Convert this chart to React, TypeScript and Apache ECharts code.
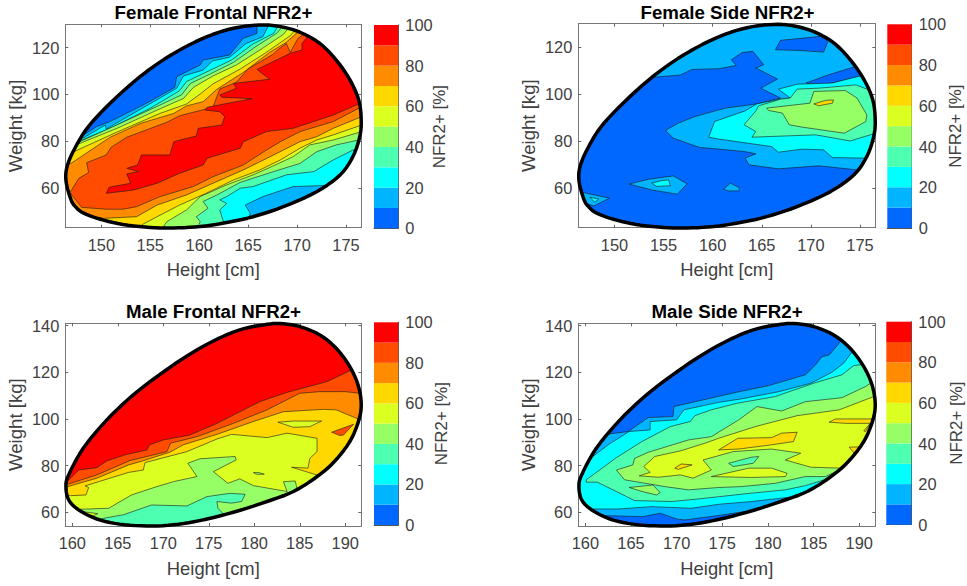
import React, { useEffect, useRef } from "react";
import * as echarts from "echarts";

type Pt = [number, number];

const bandColors = ["#0068FF", "#00B4FF", "#00FFFF", "#4DFFB0", "#96FF66", "#DCFF22", "#FFD800", "#FF8C00", "#FF4C00", "#FF0000"];
const barLevels = [0, 10, 20, 30, 40, 50, 60, 70, 80, 90];
const barTicks = 20;
const femaleHeightTicks = [150, 155, 160, 165, 170, 175];
const femaleWeightTicks = [60, 80, 100, 120];
const maleHeightTicks = [160, 165, 170, 175, 180, 185, 190];
const maleWeightTicks = [60, 80, 100, 120, 140];
const femaleRange = { x: [146.32, 176.56], y: [43, 130] };
const maleRange = { x: [159.23, 191.76], y: [54.1, 141] };

const femaleOutline: Pt[] = [[146.4,62.7],[146.9,55],[147.4,51.8],[148.2,49.2],[149.9,46.6],[152.2,44.4],[155,43.1],[157.4,42.9],[160.1,43.5],[162.8,45.2],[165.5,47.7],[168.6,52],[172,58.4],[174.4,65.6],[175.7,73.4],[176.4,81.9],[176.55,89.1],[176.3,97.6],[175.4,106.2],[174,114.7],[172.3,121.9],[170.3,126.6],[168.3,129],[166.2,129.7],[163.5,128.3],[160.8,124.7],[157.7,118.3],[154.6,109.7],[151.6,99],[148.8,86.9],[147.3,77],[146.5,69.1]];
const maleOutline: Pt[] = [[159.3,71],[159.6,65.3],[160.7,61],[162.7,57.1],[165.2,54.9],[168.2,54.1],[171.1,54.6],[174,56.4],[177.7,60],[181.4,64.6],[184.3,68.9],[186.8,75],[188.7,81.3],[190.5,90.3],[191.5,99.6],[191.75,106.7],[191.4,114.6],[190.5,122.4],[189,130.3],[187.2,136],[185,139.6],[182.8,140.9],[181,140.3],[178.4,138.2],[175.5,133.4],[172.6,127],[169.6,119],[166.7,110.3],[163.8,99.6],[161.2,87.4],[159.6,76]];

// Female frontal contour traces [height, weight]
const ffUp10: Pt[] = [[148.2,82.7],[149.5,86.2],[150.9,88.4],[154.6,96.2],[157.5,103],[157.7,107.6],[160.1,112.6],[160.4,114.7],[163.1,116.9],[164.5,124],[165.9,126.1],[165.9,131.8]];
const ffUp20: Pt[] = [[148.2,81.5],[150.4,86.9],[150.5,85.2],[154.6,95.1],[157.7,102.6],[158.4,107.9],[160.4,110.4],[161.4,114.4],[163.1,115.9],[164.8,121.8],[166.5,124.7],[167.4,131.8]];
const ffUp30: Pt[] = [[148,80.5],[150.9,85.5],[155,94.1],[158,101.6],[158.7,105.5],[160.8,109.7],[163.3,114.7],[165.5,121.6],[167.6,126.1],[168.3,131.1]];
const ffUp40: Pt[] = [[147.8,79.8],[151.2,86.2],[155.3,94.1],[158.2,99.8],[159.1,104.7],[161.1,108.7],[163.5,113.7],[165.9,120.8],[167.9,126.1],[168.8,130.4]];
const ffUp50: Pt[] = [[147.6,78.7],[151.6,85.5],[155.7,93.3],[158.4,98.3],[159.4,103],[161.4,107.9],[163.8,112.6],[166.6,120.1],[168.6,125.7],[169.4,129.7]];
const ffUp60: Pt[] = [[147.3,75.7],[151.7,84.1],[156,91.9],[158.7,95.9],[160.1,100.2],[161.4,104.5],[164.2,110.9],[166.6,117.3],[169.3,125.1],[170.1,129]];
const ffUp70: Pt[] = [[146.9,70.5],[150.9,81.7],[154,87.6],[157.4,91.9],[158.7,95.1],[160.4,96.9],[161.8,102.2],[164.5,109.4],[167.2,118],[168.9,122.3],[170.5,128.3]];
const ffUp80: Pt[] = [[146.8,58],[147.7,64.1],[148.7,66.6],[148.5,70.8],[150.5,74.1],[151,77.4],[152.6,81.7],[156.7,88.1],[158,90.9],[161.4,94.5],[162.1,102.3],[163.8,105.2],[165,110.9],[167.6,117.3],[168,119],[168.9,121.8],[169.3,118],[170.1,124],[171.7,129]];
const ffUp90: Pt[] = [[150.5,57.7],[150.8,60.3],[153,62],[152.6,66],[153.8,67],[152.6,68.4],[153.7,69.8],[154.1,74.1],[157,74.1],[157.4,79.8],[159.7,82.2],[159.9,85.5],[162.3,86.9],[162.6,90.5],[162.1,92.6],[160.6,93.3],[160.8,94.5],[165.4,98.2],[162.3,98.8],[162.1,99.8],[163.8,102.6],[163.5,104.7],[167.2,106.5],[165.9,110.7],[169.3,117.6],[170.5,119],[170.5,121.8],[171,124.4],[171.5,126]];
const ffLow20: Pt[] = [[164.8,40],[165.2,49.2],[164.7,52.7],[166.5,56.3],[169.6,60.6],[173.2,61.1],[174.5,61.3]];
const ffLow30: Pt[] = [[162.8,41.3],[162.5,45.2],[162.1,50.6],[162.8,53.4],[162.1,54.9],[162.8,56.3],[164.2,59.9],[165.5,60.6],[168.9,65.6],[171.7,67],[173.7,72],[175.7,76.2],[177.5,79.1]];
const ffLow40: Pt[] = [[159.7,41.3],[160.1,45.6],[159.7,47.7],[160.9,51.3],[160.4,54.2],[161.8,57],[164.2,62.4],[167.6,67],[170.3,70.5],[172,75.5],[174,78.4],[176.6,80.8],[177.5,81.9]];
const ffLow50: Pt[] = [[156,41.3],[156.7,45.6],[158.7,50.6],[160.1,56.3],[162.8,61.3],[165.5,65.6],[167.6,69.5],[169.6,73.4],[171.3,78.4],[173.7,80.5],[176.6,84.1],[177.5,85.5]];
const ffLow60: Pt[] = [[153.3,41.3],[154.3,44.6],[155.7,47.7],[158,52.7],[160.7,57.7],[163.5,63.4],[166.2,67.7],[168.3,72],[170.3,77],[172,80.5],[173.7,82.7],[176.6,86.9],[177.5,88.4]];
const ffLow70: Pt[] = [[147.8,49.2],[150.2,47],[153.6,47.7],[155.7,52.7],[158.7,57],[161.4,62],[164.5,67.7],[167.6,74.1],[170.3,79.8],[172,81.9],[173.7,85.5],[176.6,90.5],[177.5,91.9]];
const ffLow80: Pt[] = [[146.8,58],[148,51.7],[150.5,50.9],[152.2,50.9],[153.6,52],[156,56.3],[159.4,60.6],[161.4,64.8],[164.5,69.8],[166.6,75.5],[168.3,79.8],[170.3,84.1],[173.7,88.4],[176.3,94.1],[177.5,96.9]];
const ffLow90: Pt[] = [[150.5,57.7],[153.3,59.1],[155.7,62],[158,66.3],[160.4,69.8],[160.8,72.7],[164.2,77],[164.5,79.8],[166.9,84.1],[169.6,85.5],[173.7,91.2],[176.3,95.9],[177.5,97.6]];

// Female side contour traces
const fsWide10: Pt[] = [[140,107],[153.8,107.1],[156.7,108.1],[157.9,110.5],[160.6,110.8],[162.4,112.2],[161.9,114.6],[163,117.7],[164.1,118.2],[165.2,112.5],[164.4,111.1],[166.6,106.4],[164.9,102.5],[166.9,98.3],[164.5,95.8],[161.3,94],[158.2,90.4],[156.5,87.6],[155.2,84.5],[156,81.2],[158.6,77.3],[163.2,75.5],[164.4,74.5],[163.3,72.7],[163.7,69.8],[166.7,68.1],[170.8,69.4],[174.6,67.7],[176.3,67],[190,67],[190,140],[140,140]];
const fsHoleTop: Pt[] = [[166.4,118.9],[166.9,122.9],[171.5,124.8],[171.7,122],[171.3,117.9],[168.8,118.6]];
const fsHoleRight: Pt[] = [[169.5,104.7],[171.8,108.2],[174.6,111.8],[175.6,111.8],[176.3,106],[175.1,107.8],[172.2,104.7],[170.8,103.9]];
const fsCyan: Pt[] = [[159.6,81.6],[160.2,88.3],[163.3,92.8],[164.5,95.8],[166.9,97.8],[167.9,98.3],[166.7,102.1],[168.6,104.2],[172.2,104.7],[175.1,107.8],[176.3,106.8],[190,100],[190,72],[176.3,72.7],[175.2,72.7],[172.2,72.9],[171.3,76.2],[169.1,76.5],[166.7,75.2],[166,77.6],[160.6,80.8]];
const fsTeal: Pt[] = [[163.2,86.9],[164.4,92.8],[164.7,95],[166.9,97.8],[167.9,98.3],[168.6,102.1],[170.8,102.5],[174.6,103.9],[175.9,101.8],[190,100],[190,85],[176.6,83.3],[174,80],[170.5,82.6],[164,81.6],[164.4,84]];
const fsGreen: Pt[] = [[165.5,94],[169.9,96.1],[170.3,101.1],[173.5,101.5],[174.7,98.3],[175.7,91.1],[175.6,88.3],[173.4,83.3],[169.1,85.9],[167.8,86.9],[167.1,91.9],[165.7,93]];
const fsYellow: Pt[] = [[170.3,95.8],[171.5,97.3],[172.3,97.5],[172.2,96.1],[170.8,95]];
const fsSpotA: Pt[] = [[151.5,61.6],[153.5,63.7],[156,65.1],[157.4,61.7],[156.4,57.3],[153.8,59.1]];
const fsSpotAInner: Pt[] = [[153.8,62],[154.8,63.1],[155.5,63.4],[155.7,60.9],[154.3,60.6]];
const fsSpotB: Pt[] = [[161.1,59.4],[161.8,62],[162.7,60.1],[162.7,58.7],[161.6,58.7]];
const fsSpotC: Pt[] = [[146.5,57.7],[146.8,58],[149.5,55.6],[147.9,52.3],[147,53.5]];
const fsSpotCInner: Pt[] = [[147.5,56],[148.4,55.2],[148,53.9]];

// Male frontal contour traces (each is the lower edge of the region above it)
const mfEdge90: Pt[] = [[159.5,73.4],[160.7,78.1],[162.7,79.1],[163.8,82],[165.8,84.6],[168.2,86.7],[168.5,88.9],[170,91],[172.9,93.1],[175.9,98.1],[180.6,107.4],[183.6,111.4],[188,116],[190.9,121.4],[192,123]];
const mfEdge80: Pt[] = [[159.5,72],[162.7,76],[166.3,82.1],[170.4,86],[170.8,89.6],[173.7,92.4],[177.7,98.1],[181.4,103.9],[185,111],[187.2,111.7],[190,111.7],[191.6,111]];
const mfEdge70: Pt[] = [[159.5,71],[162.7,74.6],[166.2,80.3],[167.8,82.1],[170.7,85.7],[172.2,88.9],[175.9,93.4],[179.9,98.9],[183.2,103.1],[187.6,104.1],[189,103.9],[191.4,100],[192,99]];
const mfEdge60: Pt[] = [[159.8,67.1],[161.5,67.4],[161.8,70.6],[161.4,71.3],[166.2,77.1],[167.8,78.1],[168,81.3],[172.6,86],[175.9,91.4],[177.5,93.4],[181.4,92],[183.6,93.9],[186.9,91.7],[186.9,86],[186.1,83.1],[185.9,78.9],[184.1,79.3],[187.1,75.7],[188.3,73.1]];
const mfEdge50: Pt[] = [[161,61.3],[164,61.7],[166.5,67.4],[169.3,71],[171.1,73.1],[173.7,75.3],[172.7,81],[174,82.9],[177.9,83.9],[178,82.4],[175.5,77.4],[177.1,72.4],[178.4,74.3],[179.9,71.4],[183.6,68.9],[183.2,73.1],[184.5,73.4],[184.7,70],[185.4,67.4]];
const mfEdge40: Pt[] = [[163,57.1],[165.6,58.9],[168.7,63.1],[172.6,62.7],[174.8,66.7],[177.3,68.1],[179,67.7],[178.6,64.6],[177.5,63.9],[175.9,64.6],[176,61.7],[176.7,58.9],[176.6,56]];
const mfPocket: Pt[] = [[160.8,60.4],[162.8,59.4],[161.8,57.6],[160.6,58.5]];
const mfIslandLow: Pt[] = [[179.9,77],[180.5,77],[181.1,76.3],[180.2,76.3]];
const mfIslandLens: Pt[] = [[182.6,98.6],[184.3,99.1],[187.4,99.1],[186.1,96.7],[184.3,96.4]];
const mfIslandHigh: Pt[] = [[188.5,94.3],[190.9,97.7],[189.8,93.1],[189.4,92.9]];

// Male side contour traces
const msUp10: Pt[] = [[162.3,93.4],[164.7,94.6],[166.9,100.6],[169.6,101],[169.7,105.3],[176.4,111.3],[180.1,114.3],[184.1,118.9],[185.2,123.1],[185.9,126.7],[186.7,127.4],[188.1,133.9],[188.5,135]];
const msLow10: Pt[] = [[161.6,58.6],[166.3,58.1],[168.2,59.6],[170,57.1],[170.9,56.7],[174.6,58.6],[177.5,60.3],[178.2,58.9]];
const msUp20: Pt[] = [[160.1,81.7],[162.5,88.9],[164.8,94.6],[167.1,95.3],[167.1,98.9],[170,99.6],[170.8,103.9],[174.6,107.1],[177.1,108.6],[181.2,111.7],[184.7,115.3],[187,120],[188.3,123.9],[189.4,129.6],[190,131]];
const msLow20: Pt[] = [[160.8,61.4],[163.6,61.4],[167.3,62.4],[171.6,61.7],[174.6,63.4],[178.2,64.6],[183,66.7],[184.6,66.7]];
const msUp30: Pt[] = [[160.1,73.9],[163.4,83.4],[166.2,90.3],[169.3,96.7],[171.5,98.9],[172,101.4],[173.8,103.9],[176.6,106.7],[180.8,109.6],[185,115.3],[188.1,118.9],[189.4,122.9],[190.7,123.4],[191,124]];
const msLow30: Pt[] = [[160.1,73.9],[160.1,72.9],[161.3,72.9],[163.4,68.9],[165.4,65],[169.5,64.6],[172.4,65.7],[177.5,67.9],[181.9,69.6],[184.1,71.4],[186.5,74.3],[187.8,76]];
const msUp40: Pt[] = [[163.4,78.1],[165.2,80.3],[165.4,83.1],[166.9,85.7],[171.3,91],[173.8,92.4],[176.8,99.6],[178.8,105.3],[181.5,103.4],[184.1,107.4],[188.1,109.1],[190.7,113.9],[191.6,116.3],[192,117]];
const msLow40: Pt[] = [[163.4,78.1],[164.3,73.9],[168.7,71],[171.3,69.6],[174.6,70.6],[177.1,71],[180.8,72.4],[184.1,75.3],[186.3,75.3],[188.1,78.6],[188.9,81]];
const msUp50: Pt[] = [[165.9,75.6],[167.1,77.1],[166.4,79.6],[167.6,83.9],[170.5,86.4],[173.1,89.6],[174.6,91.7],[178.6,96.7],[183.2,101.4],[187.8,103.9],[191.6,109.6],[192,110]];
const msLow50: Pt[] = [[165.9,75.6],[168,75],[170.4,76],[171.8,74.6],[173.8,78.1],[172.9,82.4],[176.2,86],[180.4,87.1],[183.6,85.3],[181.9,82.4],[184.7,79.3],[188.1,78.9],[188.9,79.6]];
const msLens50: Pt[] = [[173.8,75.3],[177.9,78.9],[180.4,78.9],[182.1,76.7],[181.9,75.3],[178.2,74.9]];
const msTealIsle: Pt[] = [[175.7,81],[178.2,83.6],[179,83.9],[178.4,81],[176.2,79.6]];
const msGreenIsle: Pt[] = [[164.8,70.6],[167.4,71.7],[168.2,68.4],[167.8,67.4],[166.2,68.9]];
const msYellowBig: Pt[] = [[174.6,86.7],[176.7,91.7],[180.4,92],[181.5,93.9],[183.2,94.3],[182.8,90.3],[180.4,88.9],[176.8,87.1]];
const msYellowSmall: Pt[] = [[169.8,78.9],[170.5,80.7],[171.7,80.3],[170.2,78.4]];
const msYellowRight: Pt[] = [[186.7,98.6],[187.4,100],[192,100],[192,98.1],[188.5,98.1]];
const msYellowSliver: Pt[] = [[190.5,94.9],[191.2,98.1],[190.7,94.6]];
const msYellowLow: Pt[] = [[188.9,87.9],[190.6,88.1],[190,84],[189.6,84.6]];

type Range = { x: number[]; y: number[] };
const farTR = (r: Range): Pt => [r.x[1] + 20, r.y[1] + 20];
const farBR = (r: Range): Pt => [r.x[1] + 20, r.y[0] - 20];
const farBL = (r: Range): Pt => [r.x[0] - 20, r.y[0] - 20];
const farTL = (r: Range): Pt => [r.x[0] - 20, r.y[1] + 20];
const between = (up: Pt[], low: Pt[], r: Range): Pt[] => [[r.x[0] - 20, up[0][1]], ...up, farTR(r), farBR(r), ...[...low].reverse(), farBL(r)];
const tipped = (up: Pt[], low: Pt[], r: Range): Pt[] => [...up, farTR(r), farBR(r), ...[...low].reverse()];
const above = (edge: Pt[], r: Range): Pt[] => [[r.x[0] - 20, edge[0][1]], ...edge, [r.x[1] + 20, edge[edge.length - 1][1]], farTR(r), farTL(r)];

type Band = [number, Pt[]];
const femaleFrontalBands: Band[] = [
  [0, femaleOutline], [1, between(ffUp10, [], femaleRange)], [2, between(ffUp20, ffLow20, femaleRange)],
  [3, between(ffUp30, ffLow30, femaleRange)], [4, between(ffUp40, ffLow40, femaleRange)], [5, between(ffUp50, ffLow50, femaleRange)],
  [6, between(ffUp60, ffLow60, femaleRange)], [7, between(ffUp70, ffLow70, femaleRange)], [8, tipped(ffUp80, ffLow80, femaleRange)],
  [9, tipped(ffUp90, ffLow90, femaleRange)],
];
const femaleSideBands: Band[] = [
  [0, femaleOutline], [1, fsWide10], [0, fsHoleTop], [0, fsHoleRight], [2, fsCyan], [3, fsTeal], [4, fsGreen], [6, fsYellow],
  [1, fsSpotA], [2, fsSpotAInner], [1, fsSpotB], [1, fsSpotC], [2, fsSpotCInner],
];
const maleFrontalBands: Band[] = [
  [3, maleOutline], [4, above(mfEdge40, maleRange)], [5, above(mfEdge50, maleRange)], [6, above(mfEdge60, maleRange)],
  [7, above(mfEdge70, maleRange)], [8, above(mfEdge80, maleRange)], [9, above(mfEdge90, maleRange)],
  [5, mfPocket], [4, mfIslandLow], [5, mfIslandLens], [8, mfIslandHigh],
];
const maleSideBands: Band[] = [
  [0, maleOutline], [1, between(msUp10, msLow10, maleRange)], [2, between(msUp20, msLow20, maleRange)], [3, tipped(msUp30, msLow30, maleRange)],
  [4, tipped(msUp40, msLow40, maleRange)], [4, msGreenIsle], [5, tipped(msUp50, msLow50, maleRange)], [5, msLens50], [3, msTealIsle],
  [6, msYellowBig], [6, msYellowSmall], [6, msYellowRight], [6, msYellowSliver], [6, msYellowLow],
];

const panels = [
  { title: "Female Frontal NFR2+", bands: femaleFrontalBands, outline: femaleOutline, range: femaleRange, xt: femaleHeightTicks, yt: femaleWeightTicks, g: [65.3, 24.3, 296, 203.4], bar: [374, 25, 24.3, 203.3], tx: 213.5, ty: 2.5, gap: 33 },
  { title: "Female Side NFR2+", bands: femaleSideBands, outline: femaleOutline, range: femaleRange, xt: femaleHeightTicks, yt: femaleWeightTicks, g: [578.3, 23.7, 297, 204], bar: [887.3, 24.3, 24.4, 203.7], tx: 727.5, ty: 2.5, gap: 34.8 },
  { title: "Male Frontal NFR2+", bands: maleFrontalBands, outline: maleOutline, range: maleRange, xt: maleHeightTicks, yt: maleWeightTicks, g: [65.3, 323.3, 296, 202.7], bar: [374, 322.3, 24.3, 202.7], tx: 213.5, ty: 302, gap: 34.9 },
  { title: "Male Side NFR2+", bands: maleSideBands, outline: maleOutline, range: maleRange, xt: maleHeightTicks, yt: maleWeightTicks, g: [578.3, 323.3, 297, 202.7], bar: [886.3, 321.7, 25, 203], tx: 727, ty: 302, gap: 36.9 },
];

// Curve through the traced outline points, so that the thick line has no corners.
function roundOutline(pts: Pt[], steps: number): Pt[] {
  const out: Pt[] = [];
  const n = pts.length;
  for (let i = 0; i < n; i++) {
    const p0 = pts[(i - 1 + n) % n];
    const p1 = pts[i];
    const p2 = pts[(i + 1) % n];
    const p3 = pts[(i + 2) % n];
    for (let s = 0; s < steps; s++) {
      const t = s / steps;
      const f = (k: number) =>
        0.5 * (2 * p1[k] + (p2[k] - p0[k]) * t + (2 * p0[k] - 5 * p1[k] + 4 * p2[k] - p3[k]) * t * t + (3 * p1[k] - p0[k] - 3 * p2[k] + p3[k]) * t * t * t);
      out.push([f(0), f(1)]);
    }
  }
  return out;
}

function clipConvex(subject: Pt[], window: Pt[]): Pt[] {
  let area = 0;
  window.forEach((p, i) => {
    const q = window[(i + 1) % window.length];
    area += p[0] * q[1] - q[0] * p[1];
  });
  const sign = area > 0 ? 1 : -1;
  let out = subject;
  for (let i = 0; i < window.length && out.length; i++) {
    const a = window[i];
    const b = window[(i + 1) % window.length];
    const side = (p: Pt) => sign * ((b[0] - a[0]) * (p[1] - a[1]) - (b[1] - a[1]) * (p[0] - a[0]));
    const input = out;
    out = [];
    for (let j = 0; j < input.length; j++) {
      const p = input[j];
      const q = input[(j + 1) % input.length];
      const sp = side(p);
      const sq = side(q);
      if (sp >= 0) out.push(p);
      if ((sp >= 0) !== (sq >= 0)) {
        const t = sp / (sp - sq);
        out.push([p[0] + t * (q[0] - p[0]), p[1] + t * (q[1] - p[1])]);
      }
    }
  }
  return out;
}

const tickColor = "#666666";
const textColor = "#404040";
const fontFamily = "'Liberation Sans', Arial, sans-serif";

function buildOption() {
  const grid: any[] = [];
  const xAxis: any[] = [];
  const yAxis: any[] = [];
  const series: any[] = [];
  const title: any[] = [];
  const lineStyle = { color: "#777777", width: 1 };
  panels.forEach((p, i) => {
    const [l, t, w, h] = p.g;
    grid.push({ left: l, top: t, width: w, height: h, show: false });
    const [bl, bt, bw, bh] = p.bar;
    grid.push({ left: bl, top: bt, width: bw, height: bh, show: false });
    title.push({
      text: p.title, left: p.tx, top: p.ty, textAlign: "center", padding: 0,
      textStyle: { fontFamily, fontSize: 18.7, fontWeight: "bold", color: "#000000" },
    });
    const ticks = (vals: number[]) => ({ show: true, inside: true, length: 3, customValues: vals, lineStyle: { color: tickColor, width: 1 } });
    xAxis.push({
      type: "value", gridIndex: 2 * i, min: p.range.x[0], max: p.range.x[1], position: "bottom",
      name: "Height [cm]", nameLocation: "middle", nameGap: 33,
      nameTextStyle: { fontFamily, fontSize: 18.4, color: textColor },
      axisLine: { show: true, onZero: false, lineStyle },
      axisTick: ticks(p.xt), splitLine: { show: false },
      axisLabel: { customValues: p.xt, margin: 9, fontFamily, fontSize: 16.4, color: textColor, showMinLabel: true, showMaxLabel: true },
    });
    xAxis.push({
      type: "value", gridIndex: 2 * i, min: p.range.x[0], max: p.range.x[1], position: "top",
      axisLine: { show: true, onZero: false, lineStyle }, axisTick: ticks(p.xt), axisLabel: { show: false }, splitLine: { show: false },
    });
    xAxis.push({
      type: "value", gridIndex: 2 * i + 1, min: 0, max: 1, show: true, position: "bottom",
      axisLine: { show: true, onZero: false, lineStyle: { color: "#555555", width: 1 } }, axisTick: { show: false }, axisLabel: { show: false }, splitLine: { show: false },
    });
    yAxis.push({
      type: "value", gridIndex: 2 * i, min: p.range.y[0], max: p.range.y[1], position: "left",
      name: "Weight [kg]", nameLocation: "middle", nameGap: 40, nameRotate: 90,
      nameTextStyle: { fontFamily, fontSize: 18.6, color: textColor },
      axisLine: { show: true, onZero: false, lineStyle },
      axisTick: ticks(p.yt), splitLine: { show: false },
      axisLabel: { customValues: p.yt, margin: 6, fontFamily, fontSize: 16.4, color: textColor },
    });
    yAxis.push({
      type: "value", gridIndex: 2 * i, min: p.range.y[0], max: p.range.y[1], position: "right",
      axisLine: { show: true, onZero: false, lineStyle }, axisTick: ticks(p.yt), axisLabel: { show: false }, splitLine: { show: false },
    });
    yAxis.push({
      type: "value", gridIndex: 2 * i + 1, min: 0, max: 100, interval: barTicks, position: "right",
      name: "NFR2+ [%]", nameLocation: "middle", nameGap: p.gap, nameRotate: 90, nameMoveOverlap: false,
      nameTextStyle: { fontFamily, fontSize: 16.9, color: textColor },
      axisLine: { show: true, onZero: false, lineStyle: { color: "#555555", width: 1 } },
      axisTick: { show: false }, splitLine: { show: false },
      axisLabel: { margin: 7, fontFamily, fontSize: 16.4, color: textColor },
    });

    const curve = roundOutline(p.outline, 5);
    const polys = p.bands.map(([lvl, pts]) => ({ lvl, pts: clipConvex(pts === p.outline ? curve : pts, curve) }));
    series.push({
      type: "custom", xAxisIndex: 3 * i, yAxisIndex: 3 * i, silent: true, z: 3,
      data: polys.map((b) => [b.pts[0][0], b.pts[0][1], b.lvl]),
      renderItem: (params: any, api: any) => {
        const b = polys[params.dataIndex];
        return {
          type: "polygon",
          shape: { points: b.pts.map((q) => api.coord(q)) },
          style: { fill: bandColors[b.lvl], stroke: "#1a1a1a", lineWidth: 0.6, lineJoin: "round" },
        };
      },
    });
    series.push({
      type: "custom", xAxisIndex: 3 * i, yAxisIndex: 3 * i, silent: true, z: 4,
      data: [[p.outline[0][0], p.outline[0][1]]],
      renderItem: (_: any, api: any) => ({
        type: "polygon",
        shape: { points: curve.map((q) => api.coord(q)) },
        style: { fill: "none", stroke: "#000000", lineWidth: 3.5, lineJoin: "round" },
      }),
    });
    series.push({
      type: "custom", xAxisIndex: 3 * i + 2, yAxisIndex: 3 * i + 2, silent: true, z: 1,
      data: barLevels.map((v) => [0, v]),
      renderItem: (params: any, api: any) => {
        const lo = barLevels[params.dataIndex];
        const a = api.coord([0, lo + 10]);
        const b = api.coord([1, lo]);
        return {
          type: "rect",
          shape: { x: a[0], y: a[1], width: b[0] - a[0], height: b[1] - a[1] },
          style: { fill: bandColors[params.dataIndex] },
        };
      },
    });
  });
  return { animation: false, backgroundColor: "#ffffff", title, grid, xAxis, yAxis, series };
}

export default function App() {
  const ref = useRef<HTMLDivElement>(null);
  useEffect(() => {
    document.body.style.margin = "0";
    const chart = echarts.init(ref.current!, undefined, { renderer: "svg" });
    chart.setOption(buildOption());
    return () => chart.dispose();
  }, []);
  return <div ref={ref} style={{ width: 967, height: 586 }} />;
}
